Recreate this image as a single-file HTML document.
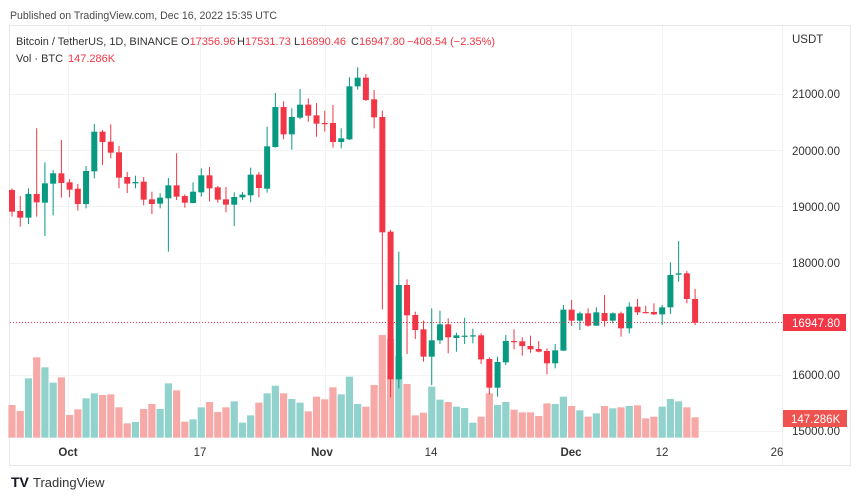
<!DOCTYPE html>
<html><head><meta charset="utf-8"><style>
html,body{margin:0;padding:0;background:#fff;width:860px;height:499px;overflow:hidden}
svg{display:block;font-family:"Liberation Sans",sans-serif}
</style></head><body>
<svg id="s" width="860" height="499" xmlns="http://www.w3.org/2000/svg">
<rect x="0" y="0" width="860" height="499" fill="#fff"/>
<text x="10" y="19" font-size="11" fill="#4a4a4a" textLength="267" lengthAdjust="spacingAndGlyphs">Published on TradingView.com, Dec 16, 2022 15:35 UTC</text>
<rect x="9.5" y="25.5" width="841" height="440" fill="none" stroke="#e6e6e6"/>
<g stroke="#f3f3f3" stroke-width="1">
<line x1="10" x2="782" y1="94.5" y2="94.5"/><line x1="10" x2="782" y1="150.5" y2="150.5"/>
<line x1="10" x2="782" y1="206.5" y2="206.5"/><line x1="10" x2="782" y1="263.5" y2="263.5"/>
<line x1="10" x2="782" y1="375.5" y2="375.5"/><line x1="10" x2="782" y1="431.5" y2="431.5"/>
<line x1="68.5" x2="68.5" y1="26" y2="438"/><line x1="200.5" x2="200.5" y1="26" y2="438"/>
<line x1="325.5" x2="325.5" y1="26" y2="438"/><line x1="431.5" x2="431.5" y1="26" y2="438"/>
<line x1="571.5" x2="571.5" y1="26" y2="438"/><line x1="662.5" x2="662.5" y1="26" y2="438"/>
</g>
<line x1="782.5" x2="782.5" y1="26" y2="465" stroke="#f0f0f0"/>
<g id="vol"></g><g id="cdl"></g>
<line x1="10" x2="782" y1="322.5" y2="322.5" stroke="#f23645" stroke-dasharray="1,2" stroke-width="1"/>
<g font-size="11" fill="#333">
<text x="16" y="45" textLength="162" lengthAdjust="spacingAndGlyphs">Bitcoin / TetherUS, 1D, BINANCE</text>
<text x="181" y="45">O<tspan fill="#f23645">17356.96</tspan></text>
<text x="237" y="45">H<tspan fill="#f23645">17531.73</tspan></text>
<text x="294" y="45">L<tspan fill="#f23645">16890.46</tspan></text>
<text x="351" y="45">C<tspan fill="#f23645">16947.80</tspan></text>
<text x="407" y="45" fill="#f23645">−408.54 (−2.35%)</text>
<text x="16" y="62">Vol · BTC <tspan fill="#f23645" x="68">147.286K</tspan></text>
</g>
<g font-size="11.5" fill="#333">
<text x="792" y="43">USDT</text>
<text x="792" y="98">21000.00</text><text x="792" y="155">20000.00</text>
<text x="792" y="211">19000.00</text><text x="792" y="267">18000.00</text>
<text x="792" y="379">16000.00</text><text x="792" y="435">15000.00</text>
</g>
<rect x="783" y="314" width="63" height="17" fill="#f23645"/>
<text x="792" y="327" font-size="11.5" fill="#fff">16947.80</text>
<rect x="783" y="410" width="64" height="17" fill="#ef5350"/>
<text x="791" y="423" font-size="11.5" fill="#fff">147.286K</text>
<g font-size="11.5" fill="#333" text-anchor="middle">
<text x="68" y="456" font-weight="bold">Oct</text><text x="200" y="456">17</text>
<text x="322" y="456" font-weight="bold">Nov</text><text x="431" y="456">14</text>
<text x="571" y="456" font-weight="bold">Dec</text><text x="662" y="456">12</text>
<text x="777" y="456">26</text>
</g>
<text x="11" y="487" font-size="14" font-weight="bold" fill="#131722">TV</text>
<text x="33" y="487" font-size="13" fill="#333">TradingView</text>
</svg>
<script>
var C=[["r",390,455,385,470],["r",453,473,408,500],["g",402,473,385,492],["r",402,427,205,470],["g",370,428,307,528],["g",340,371,330,466],["r",340,369,240,413],["r",367,389,357,412],["r",386,432,372,452],["g",333,432,318,445],["g",215,334,192,355],["r",215,246,210,315],["r",245,278,193,295],["r",277,353,258,385],["r",351,371,336,399],["g",366,370,347,385],["r",365,419,351,436],["r",418,432,395,462],["g",413,431,400,445],["g",376,415,354,575],["r",376,410,280,420],["r",408,428,403,443],["g",395,429,367,430],["g",346,397,325,410],["r",346,385,321,424],["r",382,419,378,428],["r",418,434,381,457],["g",411,434,397,498],["g",404,412,396,420],["g",344,406,323,427],["r",344,384,336,412],["g",259,386,200,398],["g",141,261,99,263],["r",141,223,124,238],["g",171,223,145,269],["g",134,173,87,178],["r",134,167,115,185],["r",166,191,129,230],["r",189,190,152,215],["r",189,246,135,263],["g",235,246,205,265],["g",79,238,52,240],["g",53,79,22,89],["r",53,120,42,123],["r",118,172,90,205],["r",171,517,152,748],["r",515,958,510,1012],["g",675,958,575,985],["r",675,766,658,882],["r",765,810,755,837],["r",808,890,782,905],["g",841,890,745,975],["g",793,841,752,852],["r",793,832,775,880],["g",826,834,818,875],["g",827,829,773,852],["g",826,829,806,850],["r",826,898,820,912],["r",897,983,892,1003],["g",906,983,890,1010],["g",843,907,825,915],["r",843,845,808,868],["r",844,858,832,887],["r",858,868,827,878],["r",867,875,843,877],["r",873,910,865,943],["g",871,910,852,925],["g",749,872,735,872],["r",749,782,720,798],["g",760,782,755,810],["r",760,797,745,800],["g",757,797,742,797],["r",759,783,705,800],["g",760,782,757,790],["r",760,805,755,830],["g",740,805,727,820],["r",740,757,717,765],["r",756,758,737,760],["r",756,763,730,765],["g",742,763,735,795],["g",645,742,607,762],["g",640,644,543,665],["r",640,717,633,730],["r",717,788,687,795]];
var V=[1035,1053,955,892,922,968,952,1065,1048,1015,1000,1005,1003,1042,1090,1086,1047,1032,1047,970,991,1085,1078,1042,1026,1056,1042,1024,1088,1066,1028,1000,977,1000,1017,1028,1054,1010,1018,982,1003,950,1032,1040,975,825,837,888,972,1066,1058,980,1019,1026,1040,1044,1088,1070,1000,1035,1026,1049,1057,1057,1068,1030,1032,1010,1038,1051,1070,1060,1038,1045,1042,1038,1036,1075,1070,1040,1017,1024,1042,1072];
var ns="http://www.w3.org/2000/svg",cg=document.getElementById("cdl"),vg=document.getElementById("vol");
function el(g,t,a){var e=document.createElementNS(ns,t);for(var k in a)e.setAttribute(k,a[k]);g.appendChild(e);}
var bottom=437.7;
C.forEach(function(c,i){
 var x=12+i*8.23,g=c[0]=="g",col=g?"#089981":"#f23645";
 var Y=function(z){return 60+z/3;};
 var vt=Y(V[i]);
 el(vg,"rect",{x:(x-3.6).toFixed(2),y:vt.toFixed(2),width:7.2,height:(bottom-vt).toFixed(2),fill:g?"#92d2cc":"#f7a9a7"});
 el(cg,"line",{x1:x.toFixed(2),x2:x.toFixed(2),y1:Y(c[3]).toFixed(2),y2:Y(c[4]).toFixed(2),stroke:col,"stroke-width":1});
 var t=Y(c[1]),b=Y(c[2]);if(b-t<1.2)b=t+1.2;
 el(cg,"rect",{x:(x-3).toFixed(2),y:t.toFixed(2),width:6,height:(b-t).toFixed(2),fill:col});
});
</script>
</body></html>
